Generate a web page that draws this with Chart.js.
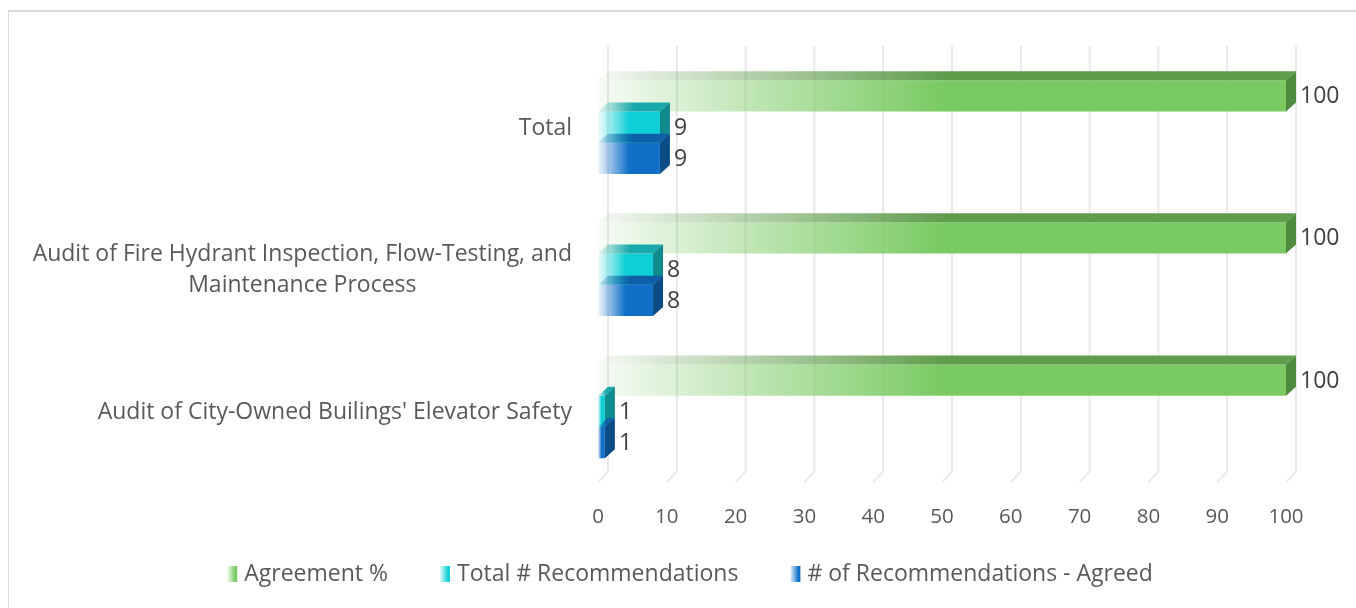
<!DOCTYPE html>
<html><head><meta charset="utf-8">
<script src="https://cdn.jsdelivr.net/npm/chart.js@4.4.1/dist/chart.umd.min.js"></script>
<style>
html,body{margin:0;padding:0;background:#fff;overflow:hidden;}
#frame{position:absolute;left:8px;top:10px;width:1360px;height:620px;border-top:2px solid #d9d9d9;border-left:1px solid #d9d9d9;}
#wrap{position:absolute;left:0;top:0;width:1356px;height:608px;}
</style></head><body>
<div id="frame"></div>
<div id="wrap"><canvas id="c"></canvas></div>
<script>
// ---- data ----
const categories = [
  'Total',
  ['Audit of Fire Hydrant Inspection, Flow-Testing, and', 'Maintenance Process'],
  "Audit of City-Owned Builings' Elevator Safety"
];
const seriesNames = ['Agreement %', 'Total # Recommendations', '# of Recommendations - Agreed'];
const agreementPct = [100, 100, 100];
const totalRecommendations = [9, 8, 1];
const agreedRecommendations = [9, 8, 1];
const xTickValues = [0, 10, 20, 30, 40, 50, 60, 70, 80, 90, 100];

// ---- styles ----
const FONT = '"Open Sans", "Noto Sans", sans-serif';
const DX = 10, DY = 9;
const styles = [
  {rgb: '122,202,99', top: '95,156,76', side: '79,139,63'},
  {rgb: '15,207,214', top: '23,169,172', side: '15,138,141'},
  {rgb: '16,112,200', top: '13,95,168', side: '11,76,134'}
];

function hGrad(ctx, rgb, x0, x1, a0) {
  if (!isFinite(x0) || !isFinite(x1) || x1 - x0 < 1) return `rgb(${rgb})`;
  const g = ctx.createLinearGradient(x0, 0, x1, 0);
  g.addColorStop(0, `rgba(${rgb},${a0})`);
  g.addColorStop(0.5, `rgba(${rgb},1)`);
  g.addColorStop(1, `rgba(${rgb},1)`);
  return g;
}

function bgFor(si) {
  return (c) => {
    const chart = c.chart, xs = chart.scales.x;
    if (!xs || c.type !== 'data') return `rgb(${styles[si].rgb})`;
    return hGrad(chart.ctx, styles[si].rgb, xs.getPixelForValue(0), xs.getPixelForValue(c.raw), 0.06);
  };
}

const seriesData = [agreementPct, totalRecommendations, agreedRecommendations];

const plugin3d = {
  id: 'plugin3d',
  beforeDatasetsDraw(chart) {
    const ctx = chart.ctx, xs = chart.scales.x, a = chart.chartArea;
    ctx.save();
    ctx.strokeStyle = '#E9E9E9';
    ctx.lineWidth = 2;
    xTickValues.forEach(v => {
      const px = xs.getPixelForValue(v);
      ctx.beginPath();
      ctx.moveTo(px + DX, a.top - DY - 1);
      ctx.lineTo(px + DX, a.bottom - DY - 2);
      ctx.lineTo(px, a.bottom);
      ctx.stroke();
    });
    ctx.restore();
  },
  afterDatasetsDraw(chart) {
    const ctx = chart.ctx;
    ctx.save();
    chart.data.datasets.forEach((ds, di) => {
      const meta = chart.getDatasetMeta(di);
      const st = styles[di];
      meta.data.forEach((el) => {
        const p = el.getProps(['x', 'y', 'base', 'height'], true);
        const t = p.y - p.height / 2, b = p.y + p.height / 2;
        // top face
        ctx.beginPath();
        ctx.moveTo(p.base, t);
        ctx.lineTo(p.x, t);
        ctx.lineTo(p.x + DX, t - DY);
        ctx.lineTo(p.base + DX, t - DY);
        ctx.closePath();
        ctx.fillStyle = hGrad(ctx, st.top, p.base, p.x + DX, 0.06);
        ctx.fill();
        // side face
        ctx.beginPath();
        ctx.moveTo(p.x, t);
        ctx.lineTo(p.x + DX, t - DY);
        ctx.lineTo(p.x + DX, b - DY);
        ctx.lineTo(p.x, b);
        ctx.closePath();
        ctx.fillStyle = `rgb(${st.side})`;
        ctx.fill();
      });
    });
    ctx.restore();
  },
  afterDraw(chart) {
    const ctx = chart.ctx, a = chart.chartArea, ys = chart.scales.y;
    ctx.save();
    // data labels
    ctx.font = `23px ${FONT}`;
    ctx.fillStyle = '#404040';
    ctx.textAlign = 'left';
    ctx.textBaseline = 'middle';
    chart.data.datasets.forEach((ds, di) => {
      chart.getDatasetMeta(di).data.forEach((el, i) => {
        const p = el.getProps(['x', 'y'], true);
        ctx.fillText(String(ds.data[i]), p.x + DX + 4, p.y + 1);
      });
    });
    // category labels
    ctx.fillStyle = '#595959';
    ctx.textAlign = 'center';
    const lh = 31;
    categories.forEach((lab, i) => {
      const lines = Array.isArray(lab) ? lab : [lab];
      const w = Math.max(...lines.map(l => ctx.measureText(l).width));
      const cx = a.left - 26 - w / 2;
      const yc = ys.getPixelForTick(i);
      lines.forEach((l, k) => {
        ctx.fillText(l, cx, yc + 1 + (k - (lines.length - 1) / 2) * lh);
      });
    });
    // legend
    const boxW = 10, boxH = 16, gap = 7, itemGap = 52;
    const widths = seriesNames.map(n => boxW + gap + ctx.measureText(n).width);
    const total = widths.reduce((s, w) => s + w, 0) + itemGap * (seriesNames.length - 1);
    let x = chart.width / 2 + 12 - total / 2;
    const ly = 574;
    ctx.textAlign = 'left';
    seriesNames.forEach((n, i) => {
      ctx.fillStyle = hGrad(ctx, styles[i].rgb, x, x + boxW * 1.6, 0.1);
      ctx.fillRect(x, ly - boxH / 2, boxW, boxH);
      ctx.fillStyle = '#595959';
      ctx.fillText(n, x + boxW + gap, ly);
      x += widths[i] + itemGap;
    });
    ctx.restore();
  }
};

new Chart(document.getElementById('c'), {
  type: 'bar',
  data: {
    labels: categories,
    datasets: seriesNames.map((n, i) => ({
      label: n,
      data: seriesData[i],
      backgroundColor: bgFor(i),
      borderWidth: 0,
      barPercentage: 1,
      categoryPercentage: 0.66
    }))
  },
  options: {
    indexAxis: 'y',
    responsive: true,
    maintainAspectRatio: false,
    animation: false,
    events: [],
    layout: {padding: {top: 56, right: 70, left: 0, bottom: 57}},
    plugins: {legend: {display: false}, tooltip: {enabled: false}, title: {display: false}},
    scales: {
      x: {
        min: 0, max: 100,
        afterBuildTicks: (s) => { s.ticks = xTickValues.map(v => ({value: v})); },
        ticks: {font: {family: FONT, size: 20.5}, color: '#595959', padding: 22, maxRotation: 0},
        grid: {display: false, drawTicks: false},
        border: {display: false}
      },
      y: {
        afterFit: (s) => { s.width = 598; },
        ticks: {display: false},
        grid: {display: false, drawTicks: false},
        border: {display: false}
      }
    }
  },
  plugins: [plugin3d]
});
</script>
</body></html>
